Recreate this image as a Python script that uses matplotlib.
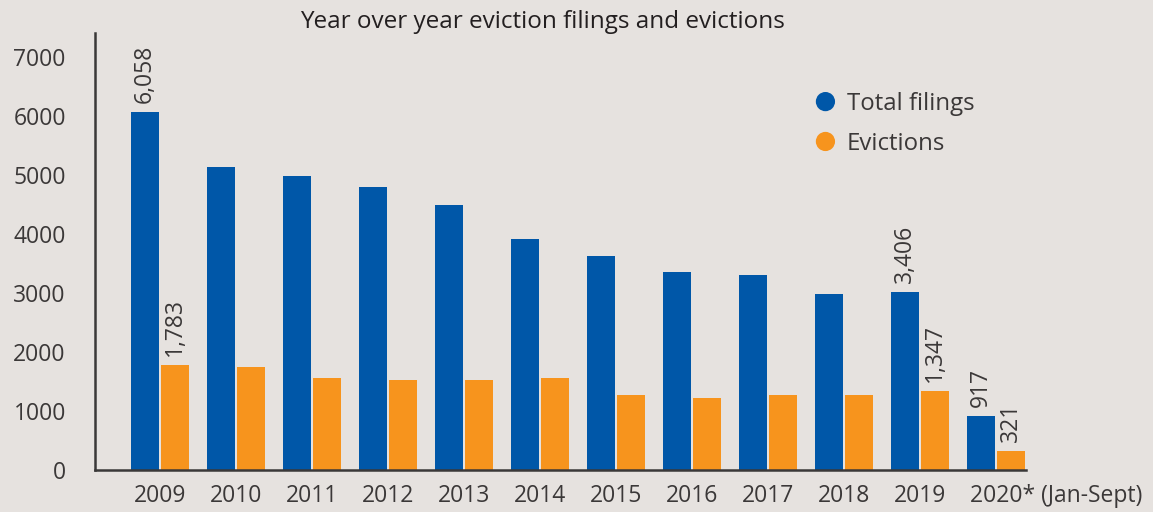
import matplotlib
matplotlib.use("Agg")
import matplotlib.pyplot as plt
import matplotlib.patches as mpatches
import matplotlib.transforms as mtransforms
from matplotlib.legend_handler import HandlerPatch
import numpy as np

years = ["2009", "2010", "2011", "2012", "2013", "2014", "2015", "2016",
         "2017", "2018", "2019", "2020* (Jan-Sept)"]
filings = [6058, 5130, 4980, 4790, 4490, 3910, 3625, 3355, 3300, 2980, 3015, 917]
evictions = [1783, 1745, 1558, 1524, 1524, 1558, 1270, 1220, 1270, 1270, 1340, 321]
filing_labels = {0: "6,058", 10: "3,406", 11: "917"}
eviction_labels = {0: "1,783", 10: "1,347", 11: "321"}
yticks = [0, 1000, 2000, 3000, 4000, 5000, 6000, 7000]

BG = "#e6e2df"
BLUE = "#0057a8"
ORANGE = "#f7941d"
TXT = "#3b3838"
FS = 16.5
plt.rcParams["font.family"] = ["Open Sans", "DejaVu Sans"]

fig = plt.figure(figsize=(11.53, 5.12), dpi=100, facecolor=BG)
ax = fig.add_axes([95/1153, 1-470/512, (1026-95)/1153, (470-33)/512])
ax.set_facecolor(BG)

x = np.arange(len(years))
w = 28/76
off = 15/76
ax.bar(x - off, filings, width=w, color=BLUE, zorder=2)
ax.bar(x + off, evictions, width=w, color=ORANGE, zorder=2)

for i, s in filing_labels.items():
    ax.annotate(s, (x[i] - off, filings[i]), xytext=(0, 6.5), textcoords="offset points",
                rotation=90, ha="center", va="bottom", fontsize=FS, color=TXT)
for i, s in eviction_labels.items():
    ax.annotate(s, (x[i] + off, evictions[i]), xytext=(0, 6.5), textcoords="offset points",
                rotation=90, ha="center", va="bottom", fontsize=FS, color=TXT)

ax.set_xlim(-0.855, 11.395)
ax.set_ylim(0, 7400)
ax.set_yticks(yticks)
ax.set_yticklabels([str(v) for v in yticks])
ax.set_xticks(x)
ax.set_xticklabels(years)
ax.tick_params(axis="both", length=0, labelsize=FS, labelcolor=TXT)
ax.tick_params(axis="y", pad=21)
ax.tick_params(axis="x", pad=10)
last = ax.get_xticklabels()[-1]
last.set_ha("left")
last.set_transform(last.get_transform() + mtransforms.ScaledTranslation(-26/100, 0, fig.dpi_scale_trans))

for s in ["top", "right"]:
    ax.spines[s].set_visible(False)
for s in ["left", "bottom"]:
    ax.spines[s].set_color("#3a3838")
    ax.spines[s].set_linewidth(1.8)

fig.text(542/1153, 1-22/512, "Year over year eviction filings and evictions",
         ha="center", va="center", fontsize=17.5, color="#231f20")


class HandlerCircle(HandlerPatch):
    def create_artists(self, legend, orig_handle, xdescent, ydescent, width, height, fontsize, trans):
        r = 0.4 * fontsize
        c = mpatches.Circle((width/2 - xdescent, height/2 - ydescent), r,
                            facecolor=orig_handle.get_facecolor(), edgecolor="none", transform=trans)
        return [c]


handles = [mpatches.Patch(color=BLUE), mpatches.Patch(color=ORANGE)]
ax.legend(handles, ["Total filings", "Evictions"], loc="upper left",
          bbox_to_anchor=(793/1153, 1-70/512), bbox_transform=fig.transFigure,
          frameon=False, fontsize=17.3, handlelength=0.9, handleheight=0.9,
          handletextpad=0.45, labelspacing=0.65, labelcolor=TXT,
          handler_map={mpatches.Patch: HandlerCircle()})

fig.savefig("out.png", dpi=100, facecolor=BG)
